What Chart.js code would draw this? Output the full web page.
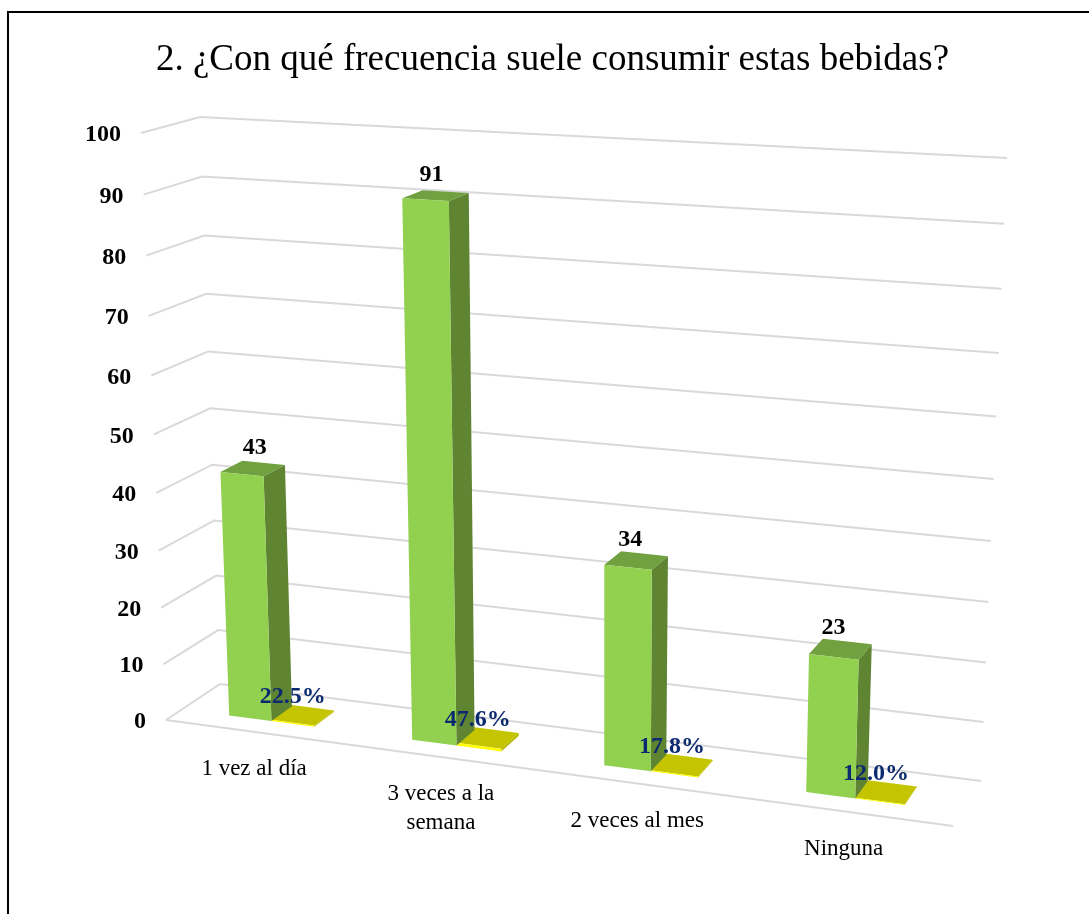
<!DOCTYPE html>
<html>
<head>
<meta charset="utf-8">
<title>Frecuencia de consumo</title>
<script src="https://cdn.jsdelivr.net/npm/chart.js@4"></script>
<style>
    html, body { margin: 0; padding: 0; background: #fff; overflow: hidden; }
    #page { position: relative; width: 1089px; height: 914px; overflow: hidden; }
    #frame { position: absolute; left: 7px; top: 11px; width: 2000px; height: 2000px; border: 2px solid #000; }
    #myChart { position: absolute; left: 0; top: 0; }
</style>
</head>
<body>
<div id="page">
    <div id="frame"></div>
    <canvas id="myChart" width="1089" height="914"></canvas>
</div>
<script>
const titleText = '2. ¿Con qué frecuencia suele consumir estas bebidas?';
const categories = ['1 vez al día', '3 veces a la semana', '2 veces al mes', 'Ninguna'];
const categoryLines = [['1 vez al día'], ['3 veces a la', 'semana'], ['2 veces al mes'], ['Ninguna']];
const counts = [43, 91, 34, 23];
const shares = [0.225, 0.476, 0.178, 0.12];
const valueTicks = [0, 10, 20, 30, 40, 50, 60, 70, 80, 90, 100];

// corners of the 3D box on the picture: bottom left, bottom right, top right, top left
const frontPlane = [[166, 720], [953, 826], [974, 180], [141, 133]];
const backPlane = [[220, 684], [981, 781], [1007, 158], [200, 117]];
const barFront = 0.3;
const barBack = 0.7;

const gridColor = '#d9d9d9';
const serif = '"Liberation Serif", "Times New Roman", serif';

// square to quad homography
let makeHomography = (q) => {
    let [x0, y0] = q[0], [x1, y1] = q[1], [x2, y2] = q[2], [x3, y3] = q[3];
    let dx1 = x1 - x2, dx2 = x3 - x2, sx = x0 - x1 + x2 - x3;
    let dy1 = y1 - y2, dy2 = y3 - y2, sy = y0 - y1 + y2 - y3;
    let den = dx1 * dy2 - dx2 * dy1;
    let g = (sx * dy2 - dx2 * sy) / den;
    let h = (dx1 * sy - sx * dy1) / den;
    let a = x1 - x0 + g * x1, b = x3 - x0 + h * x3;
    let d = y1 - y0 + g * y1, e = y3 - y0 + h * y3;
    return (s, t) => {
        let w = g * s + h * t + 1;
        return [(a * s + b * t + x0) / w, (d * s + e * t + y0) / w];
    };
};

const frontMap = makeHomography(frontPlane);
const backMap = makeHomography(backPlane);

let project = (s, t, depth) => {
    let f = frontMap(s, t);
    let b = backMap(s, t);
    return [f[0] + (b[0] - f[0]) * depth, f[1] + (b[1] - f[1]) * depth];
};

let fillQuad = (ctx, pts, color) => {
    ctx.fillStyle = color;
    ctx.beginPath();
    pts.forEach((p, i) => i ? ctx.lineTo(p[0], p[1]) : ctx.moveTo(p[0], p[1]));
    ctx.closePath();
    ctx.fill();
};

let strokePath = (ctx, pts) => {
    ctx.beginPath();
    pts.forEach((p, i) => i ? ctx.lineTo(p[0], p[1]) : ctx.moveTo(p[0], p[1]));
    ctx.stroke();
};

let drawBox = (ctx, s0, s1, t0, t1, colors) => {
    let p = (s, t, d) => project(s, t, d);
    fillQuad(ctx, [p(s1, t0, barFront), p(s1, t0, barBack), p(s1, t1, barBack), p(s1, t1, barFront)], colors.side);
    fillQuad(ctx, [p(s0, t1, barFront), p(s1, t1, barFront), p(s1, t1, barBack), p(s0, t1, barBack)], colors.top);
    fillQuad(ctx, [p(s0, t0, barFront), p(s1, t0, barFront), p(s1, t1, barFront), p(s0, t1, barFront)], colors.front);
};

const greenBar = { front: '#92d050', top: '#70a03f', side: '#5f8533' };
const yellowBar = { front: '#ffff00', top: '#c4c400', side: '#b8b800' };

const box3d = {
    id: 'box3d',
    afterDatasetsDraw: (chart) => {
        let ctx = chart.ctx;
        let area = chart.chartArea;
        let yScale = chart.scales.y;
        let toS = (px) => (px - area.left) / (area.right - area.left);
        let toT = (px) => (area.bottom - px) / (area.bottom - area.top);

        ctx.save();

        // walls and floor
        ctx.strokeStyle = gridColor;
        ctx.lineWidth = 2;
        valueTicks.forEach((v) => {
            let t = toT(yScale.getPixelForValue(v));
            strokePath(ctx, [project(0, t, 0), project(0, t, 1), project(1, t, 1)]);
        });
        strokePath(ctx, [project(0, 0, 0), project(1, 0, 0)]);

        // bars, yellow first since the green side sits next to it
        [1, 0].forEach((index) => {
            chart.getDatasetMeta(index).data.forEach((bar) => {
                let s0 = toS(bar.x - bar.width / 2);
                let s1 = toS(bar.x + bar.width / 2);
                drawBox(ctx, s0, s1, toT(bar.base), toT(bar.y), index ? yellowBar : greenBar);
            });
        });

        // value axis labels
        ctx.fillStyle = '#000';
        ctx.font = 'bold 24px ' + serif;
        ctx.textAlign = 'right';
        ctx.textBaseline = 'middle';
        valueTicks.forEach((v) => {
            let p = project(0, toT(yScale.getPixelForValue(v)), 0);
            ctx.fillText(String(v), p[0] - 20, p[1] + 2);
        });

        // category labels
        ctx.font = '23px ' + serif;
        ctx.textAlign = 'center';
        categoryLines.forEach((lines, i) => {
            let p = project(toS(chart.scales.x.getPixelForValue(i)), 0, 0);
            lines.forEach((line, n) => ctx.fillText(line, p[0] - 2, p[1] + 37 + n * 29));
        });

        // data labels
        ctx.font = 'bold 24px ' + serif;
        let countNudge = [8, 2, 0, -1];
        chart.getDatasetMeta(0).data.forEach((bar, i) => {
            let p = project(toS(bar.x), toT(bar.y), (barFront + barBack) / 2);
            ctx.fillStyle = '#000';
            ctx.fillText(String(counts[i]), p[0] - 6 + countNudge[i], p[1] - 21);
        });
        chart.getDatasetMeta(1).data.forEach((bar, i) => {
            let p = project(toS(bar.x), toT(bar.y), (barFront + barBack) / 2);
            ctx.fillStyle = '#0b2a6f';
            ctx.fillText((shares[i] * 100).toFixed(1) + '%', p[0] - 10, p[1] - 18);
        });

        ctx.restore();
    }
};

const config = {
    type: 'bar',
    data: {
        labels: categories,
        datasets: [
            { label: 'Frecuencia', data: counts, backgroundColor: 'transparent' },
            { label: 'Porcentaje', data: shares, backgroundColor: 'transparent' }
        ]
    },
    options: {
        responsive: false,
        animation: false,
        layout: { padding: { left: 16 } },
        datasets: { bar: { categoryPercentage: 0.47, barPercentage: 1 } },
        plugins: {
            legend: { display: false },
            tooltip: { enabled: false },
            title: {
                display: true,
                text: titleText,
                color: '#000',
                font: { family: serif, size: 37, weight: 'normal' },
                padding: { top: 38, bottom: 20 }
            }
        },
        scales: {
            x: { display: false },
            y: { display: false, min: 0, max: 100 }
        }
    },
    plugins: [box3d]
};

const chart = new Chart(document.getElementById('myChart'), config);
</script>
</body>
</html>
